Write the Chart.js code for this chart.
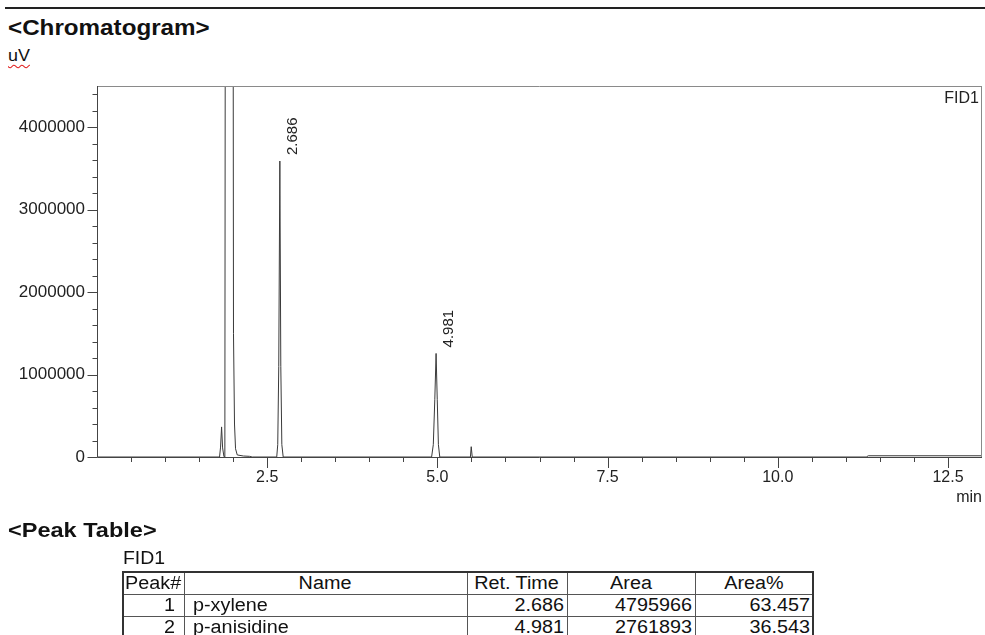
<!DOCTYPE html>
<html>
<head>
<meta charset="utf-8">
<title>Chromatogram</title>
<script src="https://cdn.jsdelivr.net/npm/chart.js@4.4.1/dist/chart.umd.min.js"></script>
<style>
  html, body { margin: 0; padding: 0; background: #fff; }
  body { position: relative; width: 985px; height: 635px; overflow: hidden;
         font-family: "Liberation Sans", Arial, sans-serif; color: #111; }
  .rule { position: absolute; left: 5px; top: 7px; width: 980px; height: 2px; background: #222; }
  .heading { position: absolute; left: 8px; font-weight: bold; line-height: 1; white-space: nowrap;
             transform: scaleX(1.1); transform-origin: left center; }
  #h-chrom { top: 17px; font-size: 22px; }
  #h-peaks { top: 519px; font-size: 21px; transform: scaleX(1.12); }
  #unit { position: absolute; left: 8px; top: 48px; font-size: 16px; line-height: 1;
          text-decoration: underline wavy #e02020; text-decoration-thickness: 1px; text-underline-offset: 3px;
          transform: scaleX(1.12); transform-origin: left center; }
  #plot { position: absolute; left: 0; top: 0; }
  #tbl-caption { position: absolute; left: 123px; top: 549px; font-size: 18px; line-height: 1;
                 transform: scaleX(1.08); transform-origin: left center; }
  #peak-table { position: absolute; left: 122px; top: 571px; border-collapse: collapse;
                table-layout: fixed; width: 690px; font-size: 18px; border: 2px solid #333; }
  #peak-table td, #peak-table th { border: 1px solid #555; padding: 0 2px; height: 21px; line-height: 21px;
                font-weight: normal; white-space: nowrap; overflow: hidden; }
  #peak-table th { text-align: center; }
  #peak-table th.first { text-align: left; padding-left: 1px; }
  #peak-table td.num { text-align: right; }
  #peak-table td.idx { text-align: right; padding-right: 8px; }
  #peak-table td.name { text-align: left; padding-left: 8px; }
  .sx { display: inline-block; transform: scaleX(1.1); }
  th .sx { transform-origin: center center; }
  th.first .sx, td.name .sx { transform-origin: left center; }
  td.num .sx, td.idx .sx { transform-origin: right center; }
</style>
</head>
<body>
<div class="rule"></div>
<div class="heading" id="h-chrom">&lt;Chromatogram&gt;</div>
<div id="unit">uV</div>
<canvas id="plot" width="985" height="520"></canvas>
<div class="heading" id="h-peaks">&lt;Peak Table&gt;</div>
<div id="tbl-caption">FID1</div>
<table id="peak-table">
  <colgroup><col style="width:61px"><col style="width:283px"><col style="width:100px"><col style="width:128px"><col style="width:118px"></colgroup>
  <thead><tr><th class="first"><span class="sx">Peak#</span></th><th><span class="sx">Name</span></th><th><span class="sx">Ret. Time</span></th><th><span class="sx">Area</span></th><th><span class="sx">Area%</span></th></tr></thead>
  <tbody id="peak-rows"></tbody>
</table>

<script>
// FID1 detector trace: retention time (min) and signal (uV)
const traceTime = [
  0, 1.80, 1.815, 1.83, 1.845, 1.865, 1.878, 1.888, 1.996, 2.005, 2.02, 2.035, 2.06, 2.15, 2.24, 2.28,
  2.64, 2.655, 2.67, 2.686, 2.70, 2.715, 2.735,
  4.915, 4.94, 4.962, 4.981, 4.998, 5.015, 5.035,
  5.485, 5.497, 5.512,
  11.30, 11.33, 13.0
];
const traceSignal = [
  0, 0, 120000, 365000, 110000, 4000, 0, 9000000, 9000000, 1500000, 400000, 100000, 25000, 12000, 8000, 0,
  0, 150000, 1100000, 3590000, 1100000, 150000, 0,
  0, 150000, 700000, 1256000, 700000, 150000, 0,
  0, 125000, 0,
  0, 15000, 15000
];

// Axis ranges and tick spacing
const timeRange = [0, 13];
const timeMinorStep = 0.5;
const timeMajorStep = 2.5;
const signalRange = [0, 4500000];
const signalMinorStep = 200000;
const signalMajorStep = 1000000;

// Integrated peaks
const peakNo = [1, 2];
const peakNames = ['p-xylene', 'p-anisidine'];
const peakRetTimes = [2.686, 4.981];
const peakAreas = [4795966, 2761893];
const peakAreaPct = [63.457, 36.543];

// Peak table rows
const tbody = document.getElementById('peak-rows');
peakNo.forEach((n, i) => {
  const tr = document.createElement('tr');
  const cells = [
    [String(n), 'idx'],
    [peakNames[i], 'name'],
    [peakRetTimes[i].toFixed(3), 'num'],
    [String(peakAreas[i]), 'num'],
    [peakAreaPct[i].toFixed(3), 'num']
  ];
  cells.forEach(([txt, cls]) => {
    const td = document.createElement('td');
    td.className = cls;
    const span = document.createElement('span');
    span.className = 'sx';
    span.textContent = txt;
    td.appendChild(span);
    tr.appendChild(td);
  });
  tbody.appendChild(tr);
});

const FONT = '"Liberation Sans", Arial, sans-serif';
Chart.defaults.font.family = FONT;
Chart.defaults.font.size = 16;
Chart.defaults.color = '#222';

const onStep = (v, step) => Math.abs(v / step - Math.round(v / step)) < 1e-6;

// Frame, major/minor tick marks, retention-time labels and detector name
const decorations = {
  id: 'decorations',
  afterDraw(chart) {
    const { ctx, chartArea: a, scales: { x, y } } = chart;
    const L = Math.round(a.left), R = Math.round(a.right), T = Math.round(a.top), B = Math.round(a.bottom);
    ctx.save();
    ctx.lineWidth = 1;

    ctx.strokeStyle = '#8a8a8a';
    ctx.beginPath();
    ctx.moveTo(L, T + 0.5); ctx.lineTo(R, T + 0.5);
    ctx.moveTo(R - 0.5, T); ctx.lineTo(R - 0.5, B);
    ctx.stroke();

    ctx.strokeStyle = '#444';
    ctx.beginPath();
    ctx.moveTo(L + 0.5, T); ctx.lineTo(L + 0.5, B + 0.5);
    ctx.lineTo(R, B + 0.5);
    y.ticks.forEach(t => {
      const py = Math.round(y.getPixelForValue(t.value)) + 0.5;
      const len = onStep(t.value, signalMajorStep) ? 10 : 5;
      ctx.moveTo(L + 0.5, py); ctx.lineTo(L + 0.5 - len, py);
    });
    x.ticks.forEach(t => {
      if (t.value <= timeRange[0] || t.value >= timeRange[1]) return;
      const px = Math.round(x.getPixelForValue(t.value)) + 0.5;
      const len = onStep(t.value, timeMajorStep) ? 11 : 5;
      ctx.moveTo(px, B); ctx.lineTo(px, B + len);
    });
    ctx.stroke();

    ctx.fillStyle = '#222';
    ctx.font = '15px ' + FONT;
    ctx.textAlign = 'left';
    ctx.textBaseline = 'alphabetic';
    peakRetTimes.forEach(rt => {
      const h = traceSignal[traceTime.indexOf(rt)];
      const px = x.getPixelForValue(rt), py = y.getPixelForValue(h);
      ctx.save();
      ctx.translate(px + 17, py - 6);
      ctx.rotate(-Math.PI / 2);
      ctx.fillText(rt.toFixed(3), 0, 0);
      ctx.restore();
    });

    ctx.font = '16px ' + FONT;
    ctx.textAlign = 'right';
    ctx.fillText('FID1', R - 3, T + 17);
    ctx.restore();
  }
};

new Chart(document.getElementById('plot'), {
  type: 'line',
  data: {
    datasets: [{
      label: 'FID1',
      data: traceTime.map((t, i) => ({ x: t, y: traceSignal[i] })),
      borderColor: '#3a3a3a',
      borderWidth: 1,
      pointRadius: 0,
      tension: 0,
      fill: false
    }]
  },
  options: {
    responsive: false,
    animation: false,
    devicePixelRatio: 1,
    layout: { padding: { left: 0, top: 86, right: 3, bottom: 13 } },
    plugins: { legend: { display: false }, tooltip: { enabled: false } },
    scales: {
      x: {
        type: 'linear',
        min: timeRange[0], max: timeRange[1],
        border: { display: false },
        // tick marks are drawn by the plugin; tickLength only reserves the label offset
        grid: { display: false, drawTicks: true, tickLength: 11 },
        ticks: {
          stepSize: timeMinorStep, autoSkip: false, maxRotation: 0, includeBounds: false, padding: 0,
          callback: v => (v > 0 && onStep(v, timeMajorStep)) ? v.toFixed(1) : ''
        },
        title: { display: true, text: 'min', align: 'end', padding: 0, font: { size: 16 } },
        afterFit: s => { s.height = 50; }
      },
      y: {
        min: signalRange[0], max: signalRange[1],
        border: { display: false },
        grid: { display: false, drawTicks: true, tickLength: 12 },
        ticks: {
          stepSize: signalMinorStep / 2, autoSkip: false, includeBounds: false, padding: 0,
          font: { size: 17 },
          callback: v => onStep(v, signalMajorStep) ? String(v) : ''
        },
        afterBuildTicks: s => { s.ticks = s.ticks.filter(t => onStep(t.value, signalMinorStep)); },
        afterFit: s => { s.width = 97; }
      }
    }
  },
  plugins: [decorations]
});
</script>
</body>
</html>
